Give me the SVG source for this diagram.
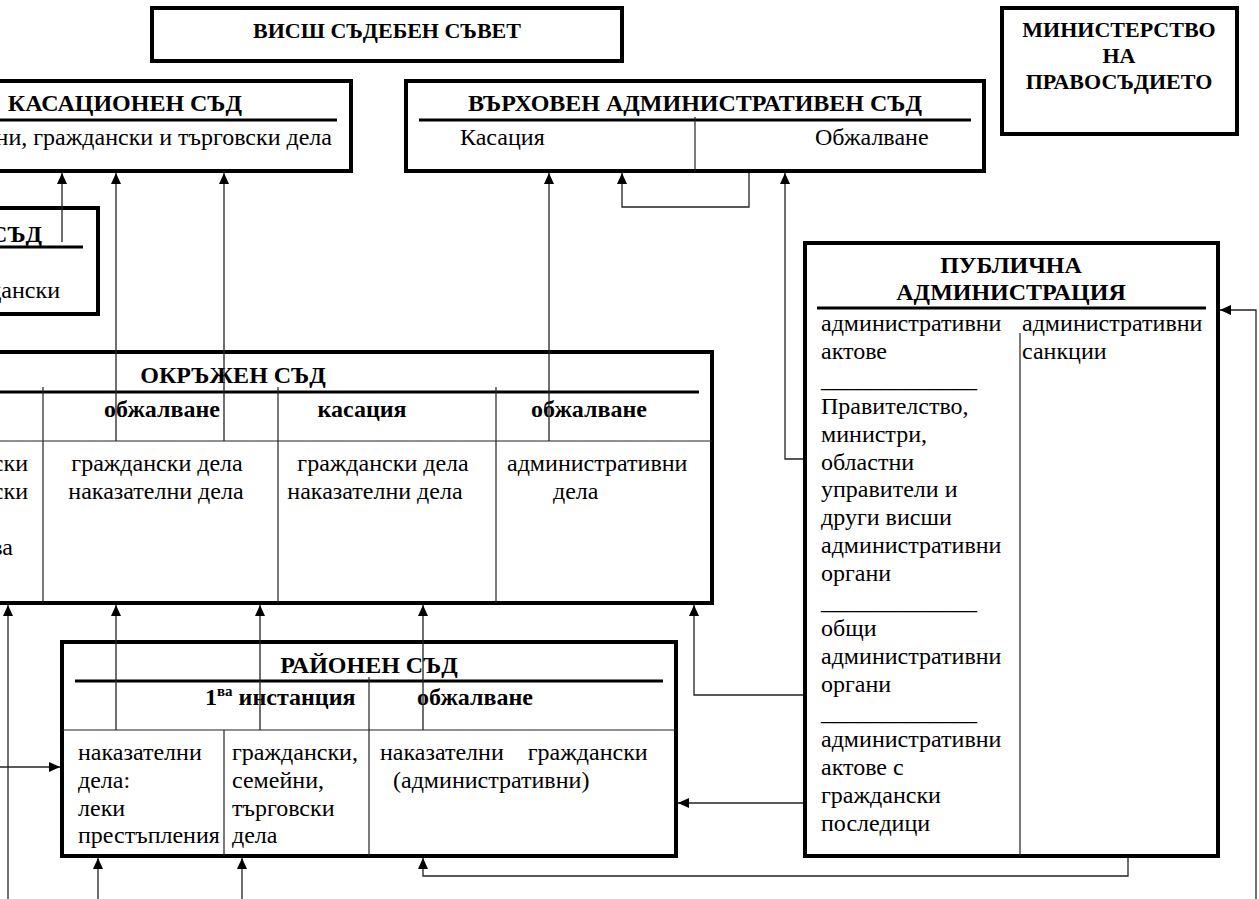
<svg xmlns="http://www.w3.org/2000/svg" width="1259" height="899" viewBox="0 0 1259 899">
<defs>
<marker id="ah" viewBox="0 0 11 10" refX="11" refY="5" markerWidth="11" markerHeight="10" orient="auto" markerUnits="userSpaceOnUse"><path d="M0,0 L11,5 L0,10 z" fill="#000"/></marker>
<style>
.box{fill:#fff;stroke:#000;stroke-width:4}
.rule{stroke:#000;stroke-width:3}
.div{stroke:#222;stroke-width:1.2;fill:none}
.conn{stroke:#222;stroke-width:1.3;fill:none;marker-end:url(#ah)}
.h{font-family:"Liberation Serif","Times New Roman",serif;font-weight:bold;font-size:24px;fill:#000}
.t{font-family:"Liberation Serif","Times New Roman",serif;font-size:24px;fill:#000}
.c{text-anchor:middle}
.e{text-anchor:end}
</style>
</defs>
<rect width="1259" height="899" fill="#fff"/>

<g id="vss">
<rect class="box" x="152" y="8" width="470" height="53"/>
<text class="h c" x="387" y="38" style="font-size:22px">ВИСШ СЪДЕБЕН СЪВЕТ</text>
</g>

<g id="ministry">
<rect class="box" x="1002" y="8" width="235" height="126"/>
<text class="h c" x="1119" y="37" style="font-size:22px">МИНИСТЕРСТВО</text>
<text class="h c" x="1119" y="63" style="font-size:22px">НА</text>
<text class="h c" x="1119" y="89" style="font-size:22px">ПРАВОСЪДИЕТО</text>
</g>

<g id="vks">
<rect class="box" x="-10" y="81" width="361" height="90"/>
<text class="h e" x="242" y="111">КАСАЦИОНЕН СЪД</text>
<line class="rule" x1="-5" y1="120" x2="337" y2="120"/>
<text class="t e" x="332" y="145">ни, граждански и търговски дела</text>
</g>

<g id="apelativen">
<rect class="box" x="-10" y="208" width="108" height="106"/>
<text class="h e" x="42" y="242">СЪД</text>
<line class="rule" x1="-5" y1="247" x2="83" y2="247"/>
<text class="t e" x="60" y="298">дански</text>
</g>

<g id="vas">
<rect class="box" x="406" y="81" width="578" height="90"/>
<text class="h c" x="695" y="111">ВЪРХОВЕН АДМИНИСТРАТИВЕН СЪД</text>
<line class="rule" x1="419" y1="120" x2="971" y2="120"/>
<line class="div" x1="695" y1="117" x2="695" y2="171"/>
<text class="t" x="460" y="145">Касация</text>
<text class="t" x="815" y="145">Обжалване</text>
</g>

<g id="okrazhen">
<rect class="box" x="-10" y="352" width="722" height="251"/>
<text class="h c" x="233" y="383">ОКРЪЖЕН СЪД</text>
<line class="rule" x1="-5" y1="392" x2="699" y2="392"/>
<line class="div" x1="43" y1="387" x2="43" y2="603"/>
<line class="div" x1="278" y1="387" x2="278" y2="603"/>
<line class="div" x1="496" y1="387" x2="496" y2="603"/>
<line class="div" x1="-5" y1="441" x2="712" y2="441"/>
<text class="h c" x="162" y="417">обжалване</text>
<text class="h c" x="362" y="417">касация</text>
<text class="h c" x="589" y="417">обжалване</text>
<text class="t e" x="28" y="471">ски</text>
<text class="t e" x="28" y="499">ски</text>
<text class="t e" x="13" y="555">ва</text>
<text class="t c" x="157" y="471">граждански дела</text>
<text class="t c" x="156" y="499">наказателни дела</text>
<text class="t c" x="383" y="471">граждански дела</text>
<text class="t c" x="375" y="499">наказателни дела</text>
<text class="t" x="507" y="471">административни</text>
<text class="t" x="553" y="499">дела</text>
</g>

<g id="raionen">
<rect class="box" x="62" y="642" width="614" height="214"/>
<text class="h c" x="369" y="673">РАЙОНЕН СЪД</text>
<line class="rule" x1="75" y1="681" x2="663" y2="681"/>
<line class="div" x1="369" y1="677" x2="369" y2="856"/>
<line class="div" x1="62" y1="730" x2="676" y2="730"/>
<line class="div" x1="224" y1="730" x2="224" y2="856"/>
<text class="h" x="205" y="705">1<tspan style="font-size:15px" dy="-9">ва</tspan><tspan dy="9"> инстанция</tspan></text>
<text class="h c" x="475" y="705">обжалване</text>
<text class="t" x="78" y="760">наказателни</text>
<text class="t" x="78" y="788">дела:</text>
<text class="t" x="78" y="816">леки</text>
<text class="t" x="78" y="843">престъпления</text>
<text class="t" x="232" y="760">граждански,</text>
<text class="t" x="232" y="788">семейни,</text>
<text class="t" x="232" y="816">търговски</text>
<text class="t" x="232" y="843">дела</text>
<text class="t" x="380" y="760" word-spacing="18">наказателни граждански</text>
<text class="t" x="393" y="788">(административни)</text>
</g>

<g id="publichna">
<rect class="box" x="805" y="243" width="413" height="613"/>
<text class="h c" x="1011" y="273">ПУБЛИЧНА</text>
<text class="h c" x="1011" y="300">АДМИНИСТРАЦИЯ</text>
<line class="rule" x1="817" y1="308" x2="1206" y2="308"/>
<line class="div" x1="1020" y1="333" x2="1020" y2="856"/>
<text class="t" x="821" y="331">административни</text>
<text class="t" x="821" y="359">актове</text>
<text class="t" x="821" y="387">_____________</text>
<text class="t" x="821" y="414">Правителство,</text>
<text class="t" x="821" y="442">министри,</text>
<text class="t" x="821" y="470">областни</text>
<text class="t" x="821" y="497">управители и</text>
<text class="t" x="821" y="525">други висши</text>
<text class="t" x="821" y="553">административни</text>
<text class="t" x="821" y="581">органи</text>
<text class="t" x="821" y="609">_____________</text>
<text class="t" x="821" y="636">общи</text>
<text class="t" x="821" y="664">административни</text>
<text class="t" x="821" y="692">органи</text>
<text class="t" x="821" y="720">_____________</text>
<text class="t" x="821" y="747">административни</text>
<text class="t" x="821" y="775">актове с</text>
<text class="t" x="821" y="803">граждански</text>
<text class="t" x="821" y="831">последици</text>
<text class="t" x="1022" y="331">административни</text>
<text class="t" x="1022" y="359">санкции</text>
</g>

<g id="connectors">
<path class="conn" d="M62,242 V173"/>
<path class="conn" d="M116,441 V173"/>
<path class="conn" d="M224,441 V173"/>
<path class="conn" d="M549,441 V173"/>
<path class="conn" d="M749,173 V207 H622 V173"/>
<path class="conn" d="M803,459 H785 V173"/>
<path class="conn" d="M8,899 V605"/>
<path class="conn" d="M0,767 H60"/>
<path class="conn" d="M116,730 V605"/>
<path class="conn" d="M260,730 V605"/>
<path class="conn" d="M423,730 V605"/>
<path class="conn" d="M803,695 H694 V605"/>
<path class="conn" d="M98,899 V858"/>
<path class="conn" d="M242,899 V858"/>
<path class="conn" d="M1128,858 V876 H423 V858"/>
<path class="conn" d="M803,803 H678"/>
<path class="conn" d="M1256,899 V310 H1220"/>
</g>
</svg>
